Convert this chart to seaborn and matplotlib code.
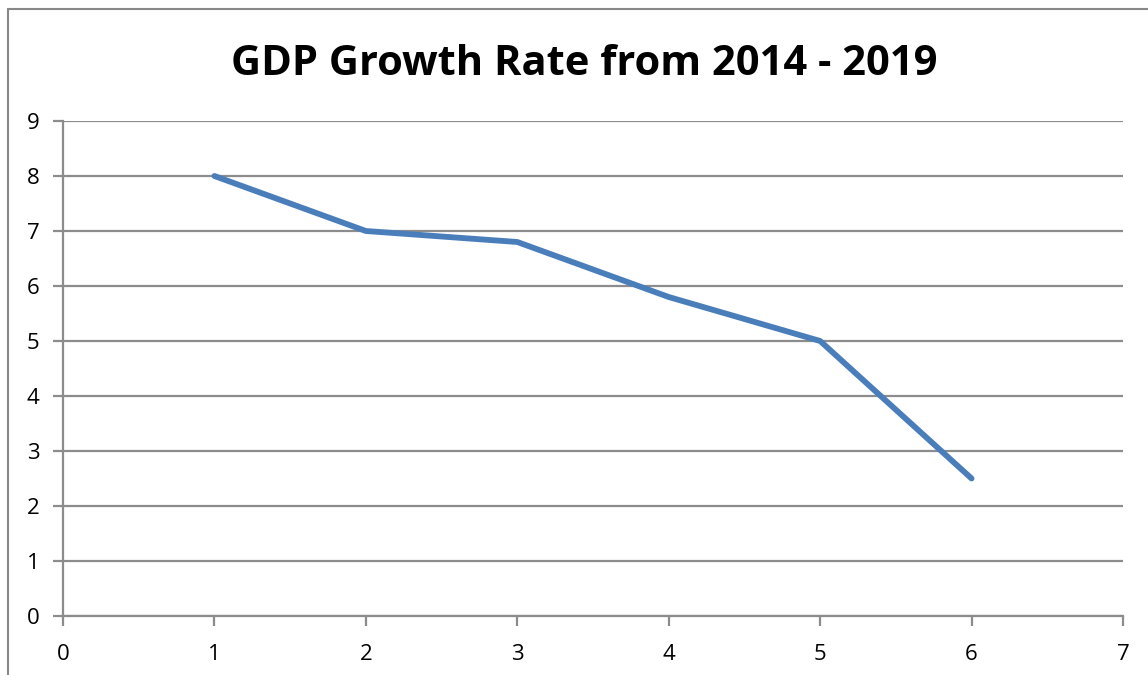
import matplotlib
matplotlib.use("Agg")
import matplotlib.pyplot as plt
import seaborn as sns
import pandas as pd
from matplotlib.lines import Line2D

x_values = [1, 2, 3, 4, 5, 6]
gdp_growth = [8, 7, 6.8, 5.8, 5, 2.5]
title = "GDP Growth Rate from 2014 - 2019"

sns.set_theme(style="white")
plt.rcParams['font.family'] = ['Open Sans', 'DejaVu Sans']

df = pd.DataFrame({"x": x_values, "y": gdp_growth})

fig = plt.figure(figsize=(11.48, 6.75), dpi=100)
ax = fig.add_axes([63/1148, 59/675, (1123-63)/1148, (616-121)/675])
sns.lineplot(data=df, x="x", y="y", ax=ax, color="#4A7EBB", linewidth=4.2,
             solid_capstyle="round", solid_joinstyle="round")

grid_c = "#8C8C8C"
ax.set_xlim(0, 7)
ax.set_ylim(0, 9)
ax.set_xticks(range(0, 8))
ax.set_yticks(range(0, 10))
ax.yaxis.grid(True, color=grid_c, linewidth=1.6)
ax.set_axisbelow(True)
for s in ["top", "right"]:
    ax.spines[s].set_visible(False)
for s in ["left", "bottom"]:
    ax.spines[s].set_color(grid_c)
    ax.spines[s].set_linewidth(1.6)
ax.tick_params(axis="both", which="major", direction="out", length=7, width=1.6,
               color=grid_c, labelsize=16, labelcolor="black",
               bottom=True, left=True)
ax.tick_params(axis="x", pad=13)
ax.tick_params(axis="y", pad=10)
ax.set_xlabel("")
ax.set_ylabel("")

fig.text(584/1148, 1 - 75/675, title, ha="center", va="baseline",
         fontsize=30, fontweight="bold", color="black")

# outer chart border (top and left visible)
bx = 8/1148
by = 1 - 9/675
fig.add_artist(Line2D([bx, 1.0], [by, by], transform=fig.transFigure, color="#888888", linewidth=1.5))
fig.add_artist(Line2D([bx, bx], [0.0, by], transform=fig.transFigure, color="#888888", linewidth=1.5))

fig.savefig("out.png", dpi=100)
